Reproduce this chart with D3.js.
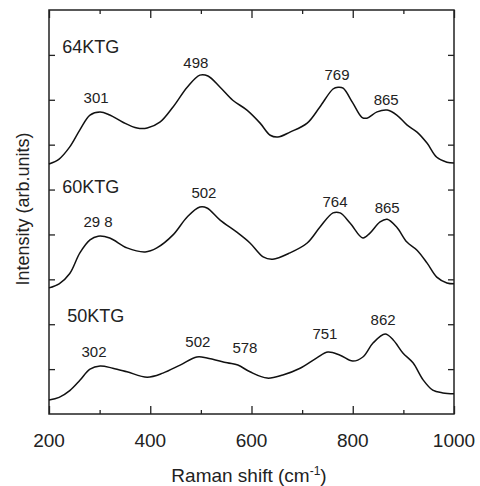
<!DOCTYPE html>
<html>
<head>
<meta charset="utf-8">
<script src="https://cdn.jsdelivr.net/npm/d3@7.9.0/dist/d3.min.js"></script>
<style>
  body { margin: 0; background: #fff; }
  svg { font-family: "Liberation Sans", Arial, sans-serif; }
</style>
</head>
<body>
<svg id="chart" width="480" height="486"></svg>
<script>
// Raman spectra (intensity in arbitrary offset units)
const x64 = [200, 220, 241, 261, 281, 301, 320, 346, 374, 394, 419, 445, 473, 498, 514, 538, 563, 591, 617, 637, 652, 676, 710, 735, 761, 771, 781, 800, 818, 828, 848, 868, 887, 907, 927, 947, 966, 986, 1000];
const y64 = [5.57, 5.68, 5.95, 6.33, 6.66, 6.73, 6.66, 6.50, 6.37, 6.37, 6.50, 6.84, 7.28, 7.55, 7.53, 7.28, 6.99, 6.77, 6.48, 6.21, 6.17, 6.28, 6.48, 6.84, 7.24, 7.28, 7.26, 6.93, 6.61, 6.59, 6.73, 6.77, 6.66, 6.44, 6.28, 6.03, 5.72, 5.61, 5.59];

const x60 = [200, 220, 241, 261, 281, 297, 320, 354, 390, 413, 445, 473, 498, 512, 538, 571, 597, 623, 642, 676, 710, 735, 761, 775, 795, 820, 834, 854, 868, 887, 907, 927, 947, 966, 986, 1000];
const y60 = [2.81, 2.90, 3.13, 3.59, 3.88, 3.96, 3.92, 3.70, 3.61, 3.70, 3.99, 4.39, 4.61, 4.59, 4.32, 4.05, 3.81, 3.50, 3.45, 3.59, 3.81, 4.16, 4.48, 4.48, 4.25, 3.92, 4.03, 4.28, 4.34, 4.16, 3.83, 3.65, 3.36, 3.05, 2.92, 2.90];

const x50 = [200, 220, 241, 261, 281, 301, 326, 354, 394, 425, 459, 492, 512, 552, 573, 597, 631, 662, 696, 729, 751, 775, 800, 820, 840, 864, 880, 899, 919, 939, 958, 978, 1000];
const y50 = [0.31, 0.37, 0.52, 0.75, 1.00, 1.07, 1.02, 0.94, 0.82, 0.91, 1.09, 1.27, 1.25, 1.14, 1.09, 0.94, 0.80, 0.87, 1.02, 1.25, 1.38, 1.31, 1.18, 1.27, 1.58, 1.78, 1.65, 1.36, 1.14, 0.76, 0.53, 0.47, 0.45];

const sampleNames = ['64KTG', '60KTG', '50KTG'];
const sampleLabelX = [226, 226, 236];
const sampleLabelY = [8.04, 4.92, 2.05];

const peakText = ['301', '498', '769', '865', '29 8', '502', '764', '865', '302', '502', '578', '751', '862'];
const peakX = [293, 490, 769, 866, 297, 506, 765, 868, 289, 494, 587, 745, 860];
const peakY = [6.93, 7.71, 7.44, 6.88, 4.16, 4.81, 4.61, 4.48, 1.27, 1.49, 1.36, 1.67, 1.98];

const xTicks = [200, 400, 600, 800, 1000];
const xMinor = [300, 500, 700, 900];
const yTicks = [1, 2, 3, 4, 5, 6, 7, 8];

const margin = { top: 10, right: 26, bottom: 72, left: 49 };
const width = 480, height = 486;
const innerW = width - margin.left - margin.right;
const innerH = height - margin.top - margin.bottom;

const svg = d3.select('#chart');
const g = svg.append('g').attr('transform', `translate(${margin.left},${margin.top})`);

const x = d3.scaleLinear().domain([200, 1000]).range([0, innerW]);
const y = d3.scaleLinear().domain([0, 9]).range([innerH, 0]);

// Ticks (inward, on all four sides)
function ticks(axisFn, scale, values, len, transform) {
  g.append('g')
    .attr('transform', transform)
    .call(axisFn(scale).tickValues(values).tickSize(len).tickFormat(''))
    .call(a => a.select('.domain').remove())
    .call(a => a.selectAll('line').attr('stroke', '#222').attr('stroke-width', 1.3));
}
ticks(d3.axisTop, x, xTicks, 8, `translate(0,${innerH})`);
ticks(d3.axisTop, x, xMinor, 4, `translate(0,${innerH})`);
ticks(d3.axisBottom, x, xTicks, 8, 'translate(0,0)');
ticks(d3.axisBottom, x, xMinor, 4, 'translate(0,0)');
ticks(d3.axisRight, y, yTicks, 6, 'translate(0,0)');
ticks(d3.axisLeft, y, yTicks, 6, `translate(${innerW},0)`);

// Frame
g.append('rect')
  .attr('width', innerW).attr('height', innerH)
  .attr('fill', 'none').attr('stroke', '#222').attr('stroke-width', 1.5);

// x tick labels
g.append('g').selectAll('text')
  .data(xTicks)
  .join('text')
  .attr('x', d => x(d))
  .attr('y', innerH + 33)
  .attr('text-anchor', 'middle')
  .attr('font-size', 19)
  .attr('fill', '#222')
  .text(d => d);

// Spectra
const line = d3.line()
  .x(d => x(d[0]))
  .y(d => y(d[1]))
  .curve(d3.curveCatmullRom.alpha(0.5));

[[x64, y64], [x60, y60], [x50, y50]].forEach(([xs, ys]) => {
  g.append('path')
    .datum(d3.zip(xs, ys))
    .attr('fill', 'none')
    .attr('stroke', '#111')
    .attr('stroke-width', 1.5)
    .attr('d', line);
});

// Sample names
g.append('g').selectAll('text')
  .data(sampleNames)
  .join('text')
  .attr('x', (d, i) => x(sampleLabelX[i]))
  .attr('y', (d, i) => y(sampleLabelY[i]))
  .attr('font-size', 18)
  .attr('fill', '#222')
  .text(d => d);

// Peak labels
g.append('g').selectAll('text')
  .data(peakText)
  .join('text')
  .attr('x', (d, i) => x(peakX[i]))
  .attr('y', (d, i) => y(peakY[i]))
  .attr('text-anchor', 'middle')
  .attr('font-size', 15)
  .attr('fill', '#222')
  .text(d => d);

// Axis titles
const xTitle = svg.append('text')
  .attr('x', 249)
  .attr('y', 482)
  .attr('text-anchor', 'middle')
  .attr('font-size', 19)
  .attr('fill', '#222');
xTitle.append('tspan').text('Raman shift (cm');
xTitle.append('tspan').attr('dy', -7).attr('font-size', 12).text('-1');
xTitle.append('tspan').attr('dy', 7).text(')');

svg.append('text')
  .attr('transform', 'translate(29,209) rotate(-90)')
  .attr('text-anchor', 'middle')
  .attr('font-size', 18)
  .attr('fill', '#222')
  .text('Intensity (arb.units)');
</script>
</body>
</html>
